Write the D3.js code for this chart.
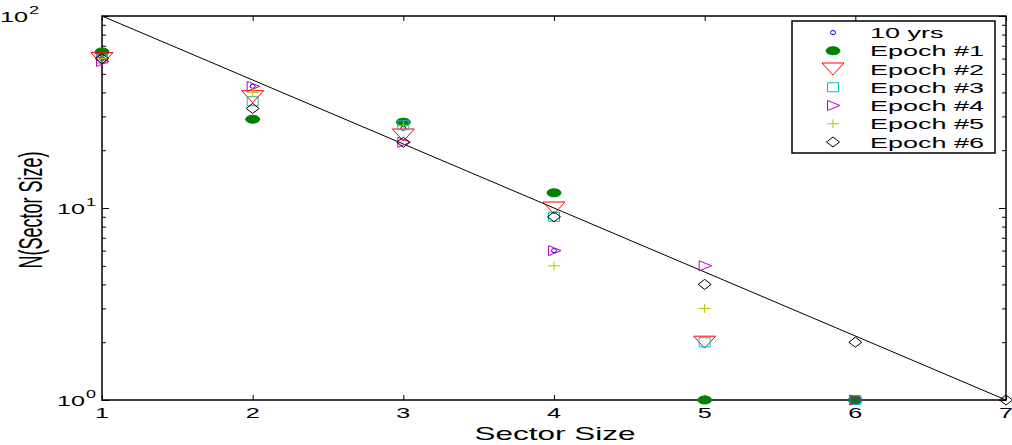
<!DOCTYPE html>
<html>
<head>
<meta charset="utf-8">
<script src="https://cdn.jsdelivr.net/npm/d3@7"></script>
<style>
  body { margin: 0; background: #fff; }
  text { font-family: "Liberation Sans", Arial, sans-serif; fill: #000; }
</style>
</head>
<body>
<div id="chart"></div>
<script>
// sector sizes on the x axis
const sizes = [1, 2, 3, 4, 5, 6, 7];
const xTicks = [1, 2, 3, 4, 5, 6, 7];
const yTicks = [1, 10, 100];
const yTickExp = ["0", "1", "2"];

// counts per sector size (x = 1, 2, 3 ...)
const tenYrs = [60, 43, 26, 6, 1, 1];
const epoch1 = [65, 29, 28, 12, 1, 1];
const epoch2 = [60, 38, 24, 10, 2];
const epoch3 = [60, 36, 27, 9, 2, 1];
const epoch4 = [58, 43, 22, 6, 5, 1];
const epoch5 = [60, 40, 27, 5, 3];
const epoch6 = [60, 33, 22, 9, 4, 2, 1];

// reference power law line
const fitX = [1, 7];
const fitY = [100, 1];

const seriesNames = ["10 yrs", "Epoch #1", "Epoch #2", "Epoch #3", "Epoch #4", "Epoch #5", "Epoch #6"];
const seriesValues = [tenYrs, epoch1, epoch2, epoch3, epoch4, epoch5, epoch6];

const width = 1012, height = 445;
const margin = {left: 102, right: 6, top: 16, bottom: 45};
const sx = 1.8; // glyphs in the picture are stretched sideways

const svg = d3.select("#chart").append("svg")
    .attr("width", width)
    .attr("height", height);

const x = d3.scaleLinear().domain([1, 7]).range([margin.left, width - margin.right]);
const y = d3.scaleLog().domain([1, 100]).range([height - margin.bottom, margin.top]);

// marker shapes (drawn wide to match the stretched picture)
const markers = [
    {d: "M-2.5,0a2.5,2,0 1,0 5,0a2.5,2,0 1,0 -5,0", fill: "none", stroke: "#0000ff"},
    {d: "M-7,0a7,4,0 1,0 14,0a7,4,0 1,0 -14,0", fill: "#008000", stroke: "#008000"},
    {d: "M-11,-6L11,-6L0,6Z", fill: "none", stroke: "#ff0000"},
    {d: "M-5.5,-4.5L5.5,-4.5L5.5,4.5L-5.5,4.5Z", fill: "none", stroke: "#00bfbf"},
    {d: "M-5.5,-5L7,0L-5.5,5Z", fill: "none", stroke: "#bf00bf"},
    {d: "M-6,0L6,0M0,-4.5L0,4.5", fill: "none", stroke: "#bfbf00"},
    {d: "M-6.5,0L0,-5L6.5,0L0,5Z", fill: "none", stroke: "#000000"}
];

// minor log ticks
const minor = [];
for (let dec = 1; dec <= 10; dec *= 10) {
    for (let k = 2; k <= 9; k++) minor.push(dec * k);
}

const axes = svg.append("g");
const plotL = x.range()[0], plotR = x.range()[1];
const plotT = y.range()[1], plotB = y.range()[0];

axes.append("g")
    .attr("transform", `translate(0,${plotB})`)
    .call(d3.axisBottom(x).tickValues(xTicks).tickSize(-5).tickFormat(""));
axes.append("g")
    .attr("transform", `translate(0,${plotT})`)
    .call(d3.axisTop(x).tickValues(xTicks).tickSize(-5).tickFormat(""));
axes.append("g")
    .attr("transform", `translate(${plotL},0)`)
    .call(d3.axisLeft(y).tickValues(yTicks).tickSize(-7).tickFormat(""));
axes.append("g")
    .attr("transform", `translate(${plotR},0)`)
    .call(d3.axisRight(y).tickValues(yTicks).tickSize(-7).tickFormat(""));
axes.append("g")
    .attr("transform", `translate(${plotL},0)`)
    .call(d3.axisLeft(y).tickValues(minor).tickSize(-4).tickFormat(""));
axes.append("g")
    .attr("transform", `translate(${plotR},0)`)
    .call(d3.axisRight(y).tickValues(minor).tickSize(-4).tickFormat(""));
axes.selectAll(".domain").remove();
axes.selectAll(".tick line").attr("stroke", "#000").attr("stroke-width", 1);

svg.append("rect")
    .attr("x", plotL).attr("y", plotT)
    .attr("width", plotR - plotL).attr("height", plotB - plotT)
    .attr("fill", "none").attr("stroke", "#000").attr("stroke-width", 1.5);

// x tick labels
svg.append("g").selectAll("text")
    .data(xTicks)
    .join("text")
    .attr("transform", d => `translate(${x(d)},418) scale(${sx},1)`)
    .attr("text-anchor", "middle")
    .attr("font-size", 14)
    .text(d => d);

// y tick labels 10^n
const yl = svg.append("g").selectAll("text")
    .data(yTicks)
    .join("text")
    .attr("transform", (d, i) => `translate(${i === 2 ? 0 : 57},${y(d) + 6}) scale(${sx},1)`)
    .attr("font-size", 14);
yl.append("tspan").text("10");
yl.append("tspan").attr("dy", -8).attr("dx", 0.5).attr("font-size", 10).text((d, i) => yTickExp[i]);

// fitted line
svg.append("path")
    .datum(fitX.map((v, i) => [v, fitY[i]]))
    .attr("d", d3.line().x(d => x(d[0])).y(d => y(d[1])))
    .attr("fill", "none")
    .attr("stroke", "#000")
    .attr("stroke-width", 1);

// points
seriesValues.forEach((vals, s) => {
    svg.append("g").selectAll("path")
        .data(vals)
        .join("path")
        .attr("transform", (d, i) => `translate(${x(sizes[i])},${y(d)})`)
        .attr("d", markers[s].d)
        .attr("fill", markers[s].fill)
        .attr("stroke", markers[s].stroke)
        .attr("stroke-width", 1);
});

// axis labels
svg.append("text")
    .attr("transform", `translate(555,440) scale(${sx},1)`)
    .attr("text-anchor", "middle")
    .attr("font-size", 17.5)
    .text("Sector Size");

svg.append("text")
    .attr("transform", `translate(42,210) scale(${sx},1) rotate(-90)`)
    .attr("text-anchor", "middle")
    .attr("font-size", 18)
    .text("N(Sector Size)");

// legend
const legend = svg.append("g");
legend.append("rect")
    .attr("x", 792).attr("y", 21)
    .attr("width", 203).attr("height", 132)
    .attr("fill", "#fff").attr("stroke", "#000").attr("stroke-width", 1.5);

const rowY = d3.scaleLinear().domain([0, 6]).range([32.5, 142]);
const rows = legend.selectAll("g.row")
    .data(seriesNames)
    .join("g")
    .attr("class", "row")
    .attr("transform", (d, i) => `translate(0,${rowY(i)})`);
rows.append("path")
    .attr("transform", "translate(833,0)")
    .attr("d", (d, i) => markers[i].d)
    .attr("fill", (d, i) => markers[i].fill)
    .attr("stroke", (d, i) => markers[i].stroke)
    .attr("stroke-width", 1);
rows.append("text")
    .attr("transform", `translate(870,5.5) scale(${sx},1)`)
    .attr("font-size", 15)
    .text(d => d);
</script>
</body>
</html>
